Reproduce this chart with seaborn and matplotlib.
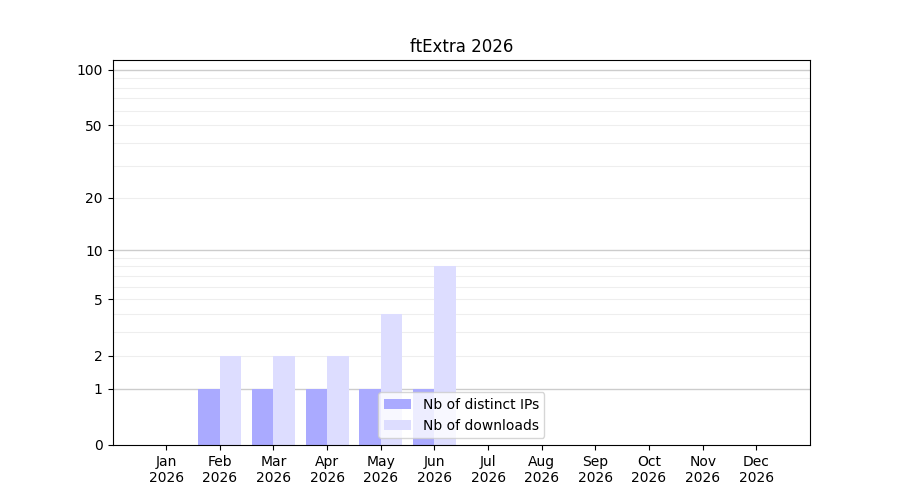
import numpy as np
import pandas as pd
import matplotlib
matplotlib.use("Agg")
import matplotlib.pyplot as plt
import seaborn as sns

months = ["Jan\n2026", "Feb\n2026", "Mar\n2026", "Apr\n2026", "May\n2026", "Jun\n2026",
          "Jul\n2026", "Aug\n2026", "Sep\n2026", "Oct\n2026", "Nov\n2026", "Dec\n2026"]
distinct_ips = [0, 1, 1, 1, 1, 1, 0, 0, 0, 0, 0, 0]
downloads = [0, 2, 2, 2, 4, 8, 0, 0, 0, 0, 0, 0]
series_names = ["Nb of distinct IPs", "Nb of downloads"]
ytick_values = [0, 1, 2, 5, 10, 20, 50, 100]
major_grid = [1, 10, 100]
minor_grid = [2, 3, 4, 5, 6, 7, 8, 9, 20, 30, 40, 50, 60, 70, 80, 90]

df = pd.DataFrame({
    "month": months * 2,
    "value": distinct_ips + downloads,
    "series": [series_names[0]] * len(months) + [series_names[1]] * len(months),
})

plt.rcParams["font.family"] = ["DejaVu Sans"]

fig, ax = plt.subplots(figsize=(9, 5), dpi=100)
sns.barplot(data=df, x="month", y="value", hue="series", order=months,
            hue_order=series_names, palette=["#aaaaff", "#ddddff"],
            saturation=1, width=0.8, ax=ax, errorbar=None, linewidth=0)

fwd = lambda v: np.log10(1 + np.maximum(v, 0))
inv = lambda v: 10 ** v - 1
ax.set_yscale("function", functions=(fwd, inv))
ax.set_ylim(0, 113)
ax.set_xlim(-1, 12)
ax.set_yticks(ytick_values)
ax.set_yticklabels([str(v) for v in ytick_values])
ax.yaxis.set_minor_locator(matplotlib.ticker.NullLocator())

for v in minor_grid:
    ax.axhline(v, color="#eeeeee", linewidth=0.8, zorder=0)
for v in major_grid:
    ax.axhline(v, color="#cccccc", linewidth=1.0, zorder=0)

ax.set_xlabel("")
ax.set_ylabel("")
ax.set_title("ftExtra 2026")
ax.tick_params(axis="both", which="major", length=3.5, width=0.8, direction="out",
               colors="black", labelsize=10)

ax.legend(loc="lower center", frameon=True, fontsize=10)

fig.subplots_adjust(left=0.125, right=0.9, bottom=0.11, top=0.88)
fig.savefig("out.png", dpi=100)
